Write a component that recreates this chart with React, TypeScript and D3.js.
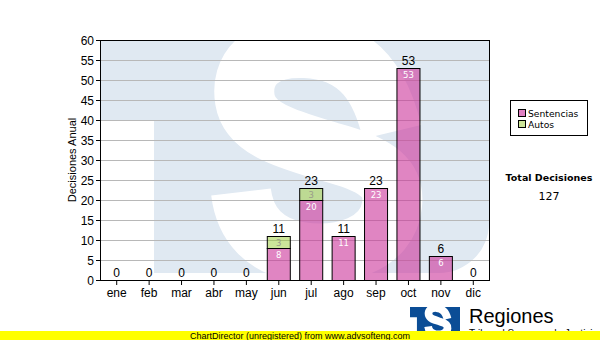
import React, { useEffect } from "react";
import * as d3 from "d3";

const months = ["ene", "feb", "mar", "abr", "may", "jun", "jul", "ago", "sep", "oct", "nov", "dic"];
const sentencias = [0, 0, 0, 0, 0, 8, 20, 11, 23, 53, 6, 0];
const autos = [0, 0, 0, 0, 0, 3, 3, 0, 0, 0, 0, 0];
const yTicks = [0, 5, 10, 15, 20, 25, 30, 35, 40, 45, 50, 55, 60];
const seriesNames = ["Sentencias", "Autos"];
const seriesColors = ["rgba(204,51,153,0.6)", "rgba(153,204,51,0.5)"];
const legendColors = ["#e080c2", "#cce599"];
const totalLabel = "Total Decisiones";
const yTitle = "Decisiones Anual";
const footer = "ChartDirector (unregistered) from www.advsofteng.com";

const W = 600;
const H = 340;
const M = { left: 100, top: 40, right: 489, bottom: 280 };

// Watermark logo defined in a local 389 x 233 box (origin = plot top-left)
const LOGO_W = 389;
const logoBlue = "M0 0 H389 V183 A50 50 0 0 1 339 233 H54 V80 H0 Z";
const logoS =
  "M292 92 C282 50, 262 10, 205 8 C160 6, 140 30, 145 60 C150 90, 190 100, 230 112 C280 125, 295 140, 292 165 C288 205, 240 218, 200 212 C165 206, 145 185, 141 152";

export default function App() {
  useEffect(() => {
    document.body.style.margin = "0";
  }, []);

  const x = d3
    .scaleBand<string>()
    .domain(months)
    .range([M.left, M.right])
    .paddingInner(0.29)
    .paddingOuter(0.145);
  const y = d3.scaleLinear().domain([0, 60]).range([M.bottom, M.top]);
  const totals = months.map((_, i) => sentencias[i] + autos[i]);
  const stackData = months.map((m, i) => ({ m, Sentencias: sentencias[i], Autos: autos[i] }));
  const stack = d3.stack<any>().keys(seriesNames)(stackData);
  const total = d3.sum(totals);
  const font = "'Liberation Sans', Arial, sans-serif";
  const smallFont = "'DejaVu Sans', Verdana, sans-serif";

  return (
    <svg
      width={W}
      height={H}
      style={{ display: "block", position: "absolute", left: 0, top: 0, background: "#fff" }}
    >
      <defs>
        <clipPath id="plotClip">
          <rect x={M.left} y={M.top} width={M.right - M.left} height={M.bottom - M.top} />
        </clipPath>
      </defs>
      {/* watermark */}
      <g clipPath="url(#plotClip)">
        <g transform={`translate(${M.left},${M.top})`}>
          <path d={logoBlue} fill="#e0e9f2" />
          <path d={logoS} fill="none" stroke="#fff" strokeWidth={60} />
        </g>
      </g>
      {/* grid */}
      {yTicks.map((t) => (
        <line
          key={"g" + t}
          x1={M.left}
          x2={M.right}
          y1={y(t) + 0.5}
          y2={y(t) + 0.5}
          stroke="#b8b8b8"
          strokeWidth={1}
        />
      ))}
      {/* bars */}
      {stack.map((layer, si) =>
        layer.map((d, i) => {
          const v = d[1] - d[0];
          if (v <= 0) return null;
          return (
            <rect
              key={`b${si}-${i}`}
              x={(x(months[i]) as number) + 0.5}
              y={y(d[1]) + 0.5}
              width={x.bandwidth()}
              height={y(d[0]) - y(d[1])}
              fill={seriesColors[si]}
              stroke="#000"
              strokeWidth={1}
            />
          );
        })
      )}
      {/* inner labels */}
      {stack.map((layer, si) =>
        layer.map((d, i) => {
          const v = d[1] - d[0];
          if (v <= 0) return null;
          return (
            <text
              key={`il${si}-${i}`}
              x={(x(months[i]) as number) + x.bandwidth() / 2 + 0.5}
              y={y(d[1]) + 10}
              textAnchor="middle"
              fontFamily={smallFont}
              fontSize={8.5}
              fill={si === 0 ? "#fff" : "#9a9a8a"}
            >
              {v}
            </text>
          );
        })
      )}
      {/* total labels */}
      {totals.map((t, i) => (
        <text
          key={"t" + i}
          x={(x(months[i]) as number) + x.bandwidth() / 2 + 0.5}
          y={y(t) - 3}
          textAnchor="middle"
          fontFamily={font}
          fontSize={12}
          fill="#000"
        >
          {t}
        </text>
      ))}
      {/* frame */}
      <rect
        x={M.left + 0.5}
        y={M.top + 0.5}
        width={M.right - M.left}
        height={M.bottom - M.top}
        fill="none"
        stroke="#000"
        strokeWidth={1}
      />
      {/* y axis */}
      {yTicks.map((t) => (
        <g key={"y" + t}>
          <line x1={M.left - 4} x2={M.left} y1={y(t) + 0.5} y2={y(t) + 0.5} stroke="#000" />
          <text x={M.left - 6} y={y(t) + 4.5} textAnchor="end" fontFamily={font} fontSize={12} fill="#000">
            {t}
          </text>
        </g>
      ))}
      <text
        transform={`translate(${76},${(M.top + M.bottom) / 2}) rotate(-90)`}
        textAnchor="middle"
        fontFamily={font}
        fontSize={11}
        fill="#000"
      >
        {yTitle}
      </text>
      {/* x axis */}
      {months.map((m) => {
        const cx = (x(m) as number) + x.bandwidth() / 2 + 0.5;
        return (
          <g key={"x" + m}>
            <line x1={cx} x2={cx} y1={M.bottom} y2={M.bottom + 5} stroke="#000" />
            <text x={cx} y={M.bottom + 17} textAnchor="middle" fontFamily={font} fontSize={12} fill="#000">
              {m}
            </text>
          </g>
        );
      })}
      {/* legend */}
      <rect x={510.5} y={100.5} width={77} height={35} fill="#fff" stroke="#000" />
      {seriesNames.map((n, i) => (
        <g key={"l" + n}>
          <rect x={518.5} y={109.5 + i * 11} width={7} height={7} fill={legendColors[i]} stroke="#000" />
          <text x={528} y={117 + i * 11} fontFamily={smallFont} fontSize={9.2} fill="#000">
            {n}
          </text>
        </g>
      ))}
      <text x={549} y={181} textAnchor="middle" fontFamily={smallFont} fontSize={9.5} fontWeight="bold" fill="#000">
        {totalLabel}
      </text>
      <text x={549} y={200} textAnchor="middle" fontFamily={smallFont} fontSize={11} fill="#000">
        {total}
      </text>
      {/* bottom logo */}
      <g transform={`translate(410,307) scale(${50 / LOGO_W})`}>
        <path d={logoBlue} fill="#0b4d96" />
        <path d={logoS} fill="none" stroke="#fff" strokeWidth={60} />
      </g>
      <text x={469} y={323} fontFamily={font} fontSize={20} fill="#000">
        Regiones
      </text>
      <text x={469} y={337} fontFamily={font} fontSize={10} fill="#000">
        Tribunal Supremo de Justicia
      </text>
      {/* footer */}
      <rect x={0} y={331} width={W} height={9} fill="#ffff00" />
      <text x={300} y={339} textAnchor="middle" fontFamily={font} fontSize={9} fill="#000">
        {footer}
      </text>
    </svg>
  );
}
